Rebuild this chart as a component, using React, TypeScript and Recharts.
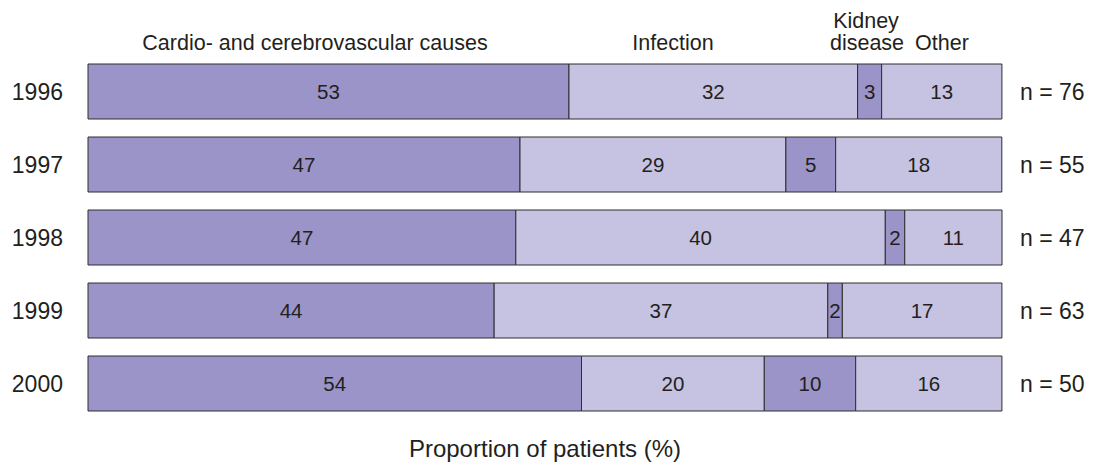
import { BarChart, Bar, XAxis, YAxis, LabelList, Customized } from 'recharts';

const years = ['1996', '1997', '1998', '1999', '2000'];
const patients = [76, 55, 47, 63, 50];
// proportions (%); labels show them rounded
const cardio = [52.63, 47.27, 46.81, 44.44, 54];
const infection = [31.58, 29.09, 40.43, 36.51, 20];
const kidney = [2.63, 5.45, 2.13, 1.59, 10];
const other = [13.16, 18.18, 10.64, 17.46, 16];

const DARK = '#9b94c8';
const LIGHT = '#c6c2e1';
const EDGE = '#2e2e2e';
const TEXT = '#231f20';
const FONT = '"Liberation Sans", Arial, sans-serif';

const data = years.map((y, i) => ({
  year: y,
  cardio: cardio[i],
  infection: infection[i],
  kidney: kidney[i],
  other: other[i],
}));

const series = [
  { key: 'cardio', fill: DARK },
  { key: 'infection', fill: LIGHT },
  { key: 'kidney', fill: DARK },
  { key: 'other', fill: LIGHT },
];

const Headers = () => (
  <g fontFamily={FONT} fontSize={21.5} fill={TEXT} textAnchor="middle">
    <text x={315} y={50}>Cardio- and cerebrovascular causes</text>
    <text x={673} y={50}>Infection</text>
    <text x={866} y={28}>Kidney</text>
    <text x={867} y={50}>disease</text>
    <text x={942} y={50}>Other</text>
  </g>
);

export default function App() {
  return (
    <div style={{ width: 1096, height: 464, background: '#fff', fontFamily: FONT }}>
      <style>{'body{margin:0}'}</style>
      <BarChart
        width={1096}
        height={464}
        data={data}
        layout="vertical"
        margin={{ top: 55, right: 0, bottom: 0, left: 0 }}
        barSize={55}
      >
        <XAxis
          type="number"
          domain={[0, 100]}
          tick={false}
          axisLine={false}
          tickLine={false}
          height={44}
          label={{
            value: 'Proportion of patients (%)',
            position: 'insideBottom',
            offset: 7,
            fill: TEXT,
            fontSize: 24,
          }}
        />
        <YAxis
          type="category"
          dataKey="year"
          width={88}
          axisLine={false}
          tickLine={false}
          tickMargin={19}
          tick={{ fill: TEXT, fontSize: 23 }}
        />
        <YAxis
          yAxisId="n"
          orientation="right"
          type="category"
          dataKey="year"
          width={94}
          axisLine={false}
          tickLine={false}
          tickMargin={12}
          tick={{ fill: TEXT, fontSize: 23, textAnchor: 'start' }}
          tickFormatter={(_v: string, i: number) => `n = ${patients[i]}`}
        />
        {series.map(s => (
          <Bar
            key={s.key}
            dataKey={s.key}
            stackId="a"
            fill={s.fill}
            stroke={EDGE}
            strokeWidth={1}
            isAnimationActive={false}
          >
            <LabelList
              dataKey={s.key}
              position="center"
              fill={TEXT}
              fontSize={20.5}
              formatter={(v: number) => Math.round(v)}
            />
          </Bar>
        ))}
        <Customized component={Headers} />
      </BarChart>
    </div>
  );
}
